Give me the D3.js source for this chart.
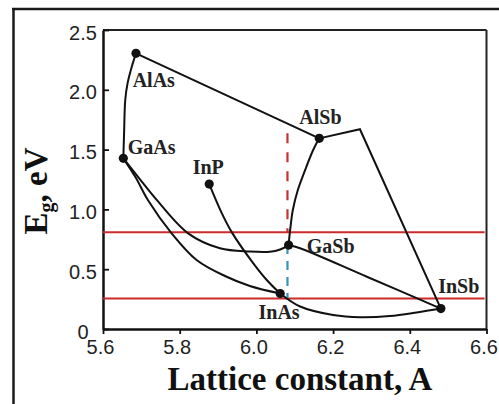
<!DOCTYPE html>
<html><head><meta charset="utf-8">
<script src="https://cdn.jsdelivr.net/npm/d3@7"></script>
<style>body{margin:0;background:#fff}svg{display:block}</style>
</head><body><svg id="c" width="499" height="404"></svg>
<script>
// ---- data ----
const xTicks=[5.6,5.8,6.0,6.2,6.4,6.6];
const xTickLabels=["5.6","5.8","6.0","6.2","6.4","6.6"];
const yTicks=[0,0.5,1.0,1.5,2.0,2.5];
const yTickLabels=["0","0.5","1.0","1.5","2.0","2.5"];
const compounds=["AlAs","GaAs","InP","AlSb","GaSb","InAs","InSb"];
const latticeA=[5.686,5.653,5.877,6.164,6.084,6.062,6.481];
const gapEV=[2.305,1.427,1.212,1.594,0.702,0.297,0.171];
const curveAlAsGaAs=[[5.653,1.427],[5.655,1.639],[5.658,1.915],[5.664,2.054],[5.675,2.193],[5.686,2.305]];
const curveGaAsGaSb=[[5.653,1.427],[5.696,1.254],[5.740,1.080],[5.822,0.800],[5.905,0.675],[5.983,0.648],[6.035,0.646],[6.062,0.665],[6.084,0.702]];
const curveGaAsInAs=[[5.653,1.427],[5.686,1.263],[5.717,1.079],[5.779,0.800],[5.844,0.577],[5.918,0.443],[5.983,0.360],[6.062,0.297]];
const curveInPInAs=[[5.877,1.212],[5.910,0.967],[5.936,0.808],[5.992,0.549],[6.027,0.410],[6.062,0.297]];
const curveAlSbGaSb=[[6.164,1.594],[6.148,1.497],[6.127,1.329],[6.108,1.162],[6.095,0.995],[6.088,0.828],[6.084,0.702]];
const curveGaSbInSb=[[6.084,0.702],[6.114,0.675],[6.288,0.437],[6.481,0.171]];
const curveInAsInSb=[[6.062,0.297],[6.114,0.188],[6.200,0.117],[6.270,0.098],[6.348,0.108],[6.418,0.138],[6.481,0.171]];
const lineAlAsAlSb=[[5.686,2.305],[6.164,1.594]];
const lineAlSbInSb=[[6.164,1.594],[6.270,1.670],[6.481,0.171]];
const redLevels=[0.808,0.255];
const dashX=6.081;
const redDashRange=[1.636,0.808];
const blueDashRange=[0.702,0.255];

// ---- layout ----
const labelOffsets=[[-3.3,34],[4.4,-4],[-16.6,-10],[-20,-14.3],[18.2,7.7],[-21.7,25.8],[-2.7,-15.2]];
const L=103,R=486.5,T=30,B=329;
const svg=d3.select("#c");
const x=d3.scaleLinear().domain([5.6,6.6]).range([L,R]);
const y=d3.scaleLinear().domain([0,2.5]).range([B,T]);

// outer frame (top and left only)
svg.append("line").attr("x1",12).attr("x2",499).attr("y1",9).attr("y2",9).attr("stroke","#1a1a1a").attr("stroke-width",2.5);
svg.append("line").attr("x1",13.5).attr("x2",13.5).attr("y1",8).attr("y2",404).attr("stroke","#1a1a1a").attr("stroke-width",2.5);

// plot frame top/right
svg.append("line").attr("x1",L).attr("x2",R).attr("y1",T).attr("y2",T).attr("stroke","#222").attr("stroke-width",2);
svg.append("line").attr("x1",R).attr("x2",R).attr("y1",T).attr("y2",B).attr("stroke","#222").attr("stroke-width",2);

// axes
const ax=svg.append("g").attr("transform",`translate(0,${B})`)
  .call(d3.axisBottom(x).tickValues(xTicks).tickSize(5).tickSizeOuter(0).tickFormat((d,i)=>xTickLabels[i]));
ax.select(".domain").attr("stroke","#111").attr("stroke-width",2.5);
ax.selectAll(".tick line").attr("stroke","#111").attr("stroke-width",1.8);
ax.selectAll(".tick text").attr("font-family","'Liberation Sans',Arial,sans-serif").attr("font-size",20)
  .attr("fill","#222").attr("y",0).attr("dy",25).attr("x",-3);
const ay=svg.append("g").attr("transform",`translate(${L},0)`)
  .call(d3.axisLeft(y).tickValues(yTicks).tickSize(-6).tickSizeOuter(0).tickFormat((d,i)=>yTickLabels[i]));
ay.select(".domain").attr("stroke","#111").attr("stroke-width",2.5);
ay.selectAll(".tick line").attr("stroke","#111").attr("stroke-width",1.8);
ay.selectAll(".tick text").attr("font-family","'Liberation Sans',Arial,sans-serif").attr("font-size",20)
  .attr("fill","#222").attr("text-anchor","middle").attr("x",-20).attr("dy",9);

// red horizontal lines
svg.selectAll(".red").data(redLevels).enter().append("line")
  .attr("x1",x(5.6)).attr("x2",x(6.595)).attr("y1",d=>y(d)).attr("y2",d=>y(d))
  .attr("stroke","#cc2b2b").attr("stroke-width",2);

// dashed verticals
svg.append("line").attr("x1",x(dashX)).attr("x2",x(dashX)).attr("y1",y(redDashRange[0])).attr("y2",y(redDashRange[1]))
  .attr("stroke","#c8322e").attr("stroke-width",2.2).attr("stroke-dasharray","10,9");
svg.append("line").attr("x1",x(dashX)).attr("x2",x(dashX)).attr("y1",y(blueDashRange[0])).attr("y2",y(blueDashRange[1]))
  .attr("stroke","#3a90b8").attr("stroke-width",2.2).attr("stroke-dasharray","9,7");

// curves
const smooth=d3.line().x(d=>x(d[0])).y(d=>y(d[1])).curve(d3.curveCatmullRom.alpha(0.5));
const straight=d3.line().x(d=>x(d[0])).y(d=>y(d[1]));
[curveAlAsGaAs,curveGaAsGaSb,curveGaAsInAs,curveInPInAs,curveAlSbGaSb,curveGaSbInSb,curveInAsInSb].forEach(c=>{
  svg.append("path").attr("d",smooth(c)).attr("fill","none").attr("stroke","#111").attr("stroke-width",2);
});
[lineAlAsAlSb,lineAlSbInSb].forEach(c=>{
  svg.append("path").attr("d",straight(c)).attr("fill","none").attr("stroke","#111").attr("stroke-width",2).attr("stroke-linejoin","miter");
});

// markers and labels
compounds.forEach((n,i)=>{
  svg.append("circle").attr("cx",x(latticeA[i])).attr("cy",y(gapEV[i])).attr("r",4.6).attr("fill","#111");
  svg.append("text").attr("x",x(latticeA[i])+labelOffsets[i][0]).attr("y",y(gapEV[i])+labelOffsets[i][1])
    .attr("font-family","'Liberation Serif','Times New Roman',serif").attr("font-weight","bold").attr("font-size",20)
    .attr("fill","#222").text(n);
});

// axis titles
svg.append("text").attr("x",300).attr("y",390).attr("text-anchor","middle")
  .attr("font-family","'Liberation Serif','Times New Roman',serif").attr("font-weight","bold").attr("font-size",33)
  .attr("fill","#111").text("Lattice constant, A");
const yt=svg.append("text").attr("transform","translate(46.5,191) rotate(-90)").attr("text-anchor","middle")
  .attr("font-family","'Liberation Serif','Times New Roman',serif").attr("font-weight","bold").attr("font-size",33).attr("fill","#111");
yt.append("tspan").text("E");
yt.append("tspan").attr("font-size",20).attr("dy",6).text("g");
yt.append("tspan").attr("dy",-6).text(", eV");
</script></body></html>
